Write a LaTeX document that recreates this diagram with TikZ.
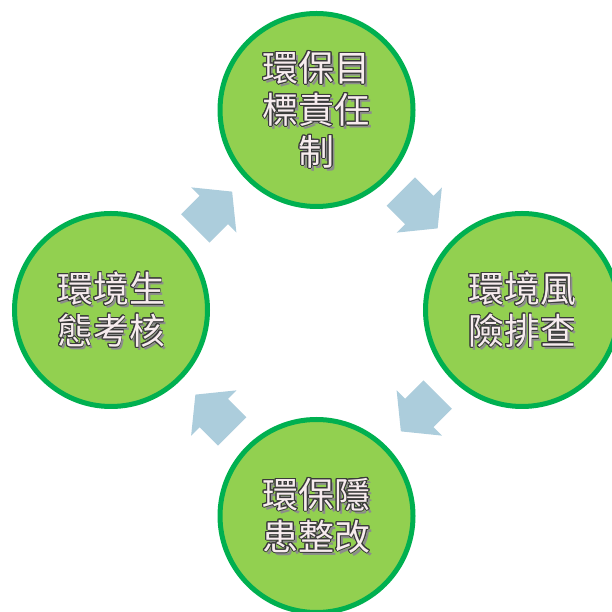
\documentclass[tikz,border=0pt]{standalone}
\usepackage{fontspec}
\newfontfamily\cjk{Noto Sans CJK TC}
\usepackage{contour}
\usetikzlibrary{calc}

\definecolor{ringfill}{HTML}{92D050}
\definecolor{ringedge}{HTML}{00B050}
\definecolor{flowblue}{HTML}{ACCDDC}
\definecolor{letterfill}{HTML}{F7ECEE}
\definecolor{letteredge}{HTML}{3A3A3A}
\contourlength{0.9pt}
\newcommand{\outl}[1]{\contour{letteredge}{#1}}

\begin{document}
\begin{tikzpicture}[x=1pt, y=1pt,
    ring/.style ={circle, draw=ringedge, line width=5pt, fill=ringfill, minimum size=193pt, inner sep=0pt},
    ringtext/.style ={align=center, font=\cjk\fontsize{36}{42}\selectfont, text=letterfill},
    ringshade/.style ={ringtext, text=black!45},
    flow/.style ={fill=flowblue}]
   \useasboundingbox (0,0) rectangle (612,612);
   \clip (0,0) rectangle (612,612);

   \node[ring] (top)    at (316.5,502) {};
   \node[ring] (right)  at (522,302)   {};
   \node[ring] (bottom) at (316.5,96)  {};
   \node[ring] (left)   at (111,302)   {};

   % shadows under the names
   \node[ringshade] (topshade)    at ($(top)+(2.5,-3)$)    {環保目\\標責任\\制};
   \node[ringshade] (rightshade)  at ($(right)+(2.5,-3)$)  {環境風\\險排查};
   \node[ringshade] (bottomshade) at ($(bottom)+(2.5,-3)$) {環保隱\\患整改};
   \node[ringshade] (leftshade)   at ($(left)+(2.5,-3)$)   {環境生\\態考核};

   \node[ringtext] (topname)    at (top)    {\outl{環保目}\\\outl{標責任}\\\outl{制}};
   \node[ringtext] (rightname)  at (right)  {\outl{環境風}\\\outl{險排查}};
   \node[ringtext] (bottomname) at (bottom) {\outl{環保隱}\\\outl{患整改}};
   \node[ringtext] (leftname)   at (left)   {\outl{環境生}\\\outl{態考核}};

   % block arrows, clockwise
   \foreach \src/\dst/\ang in {left/top/45, top/right/-45, right/bottom/-135, bottom/left/135}
     \fill[flow, shift={($(\src)!0.5!(\dst)$)}, rotate=\ang]
       (-26,-20) -- (0,-20) -- (0,-32) -- (26,0) -- (0,32) -- (0,20) -- (-26,20) -- cycle;
\end{tikzpicture}
\end{document}
